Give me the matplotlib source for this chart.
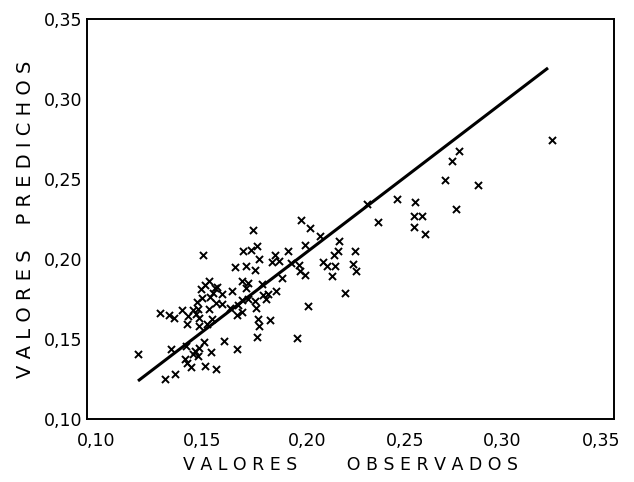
import matplotlib
matplotlib.use("Agg")
import matplotlib.pyplot as plt
from matplotlib.transforms import ScaledTranslation

# Observed values (x) and predicted values (y)
observed = [0.1242, 0.1345, 0.1388, 0.1413, 0.1399, 0.1368, 0.1419, 0.1450, 0.1473, 0.1481,
            0.1504, 0.1519, 0.1521, 0.1527, 0.1541, 0.1547, 0.1562, 0.1579, 0.1550, 0.1581,
            0.1585, 0.1599, 0.1605, 0.1618, 0.1640, 0.1610, 0.1640, 0.1595, 0.1570, 0.1533,
            0.1531, 0.1469, 0.1465, 0.1475, 0.1492, 0.1504, 0.1514, 0.1527, 0.1531, 0.1556,
            0.1560, 0.1587, 0.1610, 0.1649, 0.1711, 0.1678, 0.1688, 0.1700, 0.1711, 0.1717,
            0.1733, 0.1735, 0.1736, 0.1742, 0.1752, 0.1754, 0.1764, 0.1764, 0.1779, 0.1789,
            0.1798, 0.1795, 0.1800, 0.1806, 0.1810, 0.1814, 0.1816, 0.1808, 0.1828, 0.1835,
            0.1851, 0.1859, 0.1866, 0.1876, 0.1891, 0.1895, 0.1909, 0.1924, 0.1953, 0.1969,
            0.1996, 0.2006, 0.2012, 0.2017, 0.2033, 0.2035, 0.2047, 0.2060, 0.2103, 0.2118,
            0.2138, 0.2163, 0.2171, 0.2178, 0.2192, 0.2196, 0.2225, 0.2264, 0.2271, 0.2277,
            0.2329, 0.2380, 0.2471, 0.2549, 0.2550, 0.2554, 0.2587, 0.2603, 0.2696, 0.2733,
            0.2752, 0.2767, 0.2855, 0.3206]
predicted = [0.1409, 0.1664, 0.1647, 0.1629, 0.1436, 0.1249, 0.1280, 0.1679, 0.1591, 0.1643,
             0.1679, 0.1654, 0.1732, 0.1685, 0.1813, 0.1757, 0.1836, 0.1861, 0.2027, 0.1685,
             0.1762, 0.1789, 0.1820, 0.1824, 0.1782, 0.1726, 0.1716, 0.1623, 0.1591, 0.1633,
             0.1581, 0.1457, 0.1374, 0.1353, 0.1322, 0.1405, 0.1425, 0.1394, 0.1446, 0.1483,
             0.1332, 0.1419, 0.1311, 0.1488, 0.1440, 0.1695, 0.1803, 0.1952, 0.1649, 0.1712,
             0.1741, 0.1670, 0.1865, 0.2048, 0.1954, 0.1820, 0.1851, 0.1753, 0.2058, 0.2181,
             0.1934, 0.1737, 0.1691, 0.2079, 0.1623, 0.2002, 0.1581, 0.1513, 0.1845, 0.1778,
             0.1753, 0.1782, 0.1616, 0.1981, 0.2027, 0.1803, 0.1990, 0.1882, 0.2052, 0.1973,
             0.1508, 0.1965, 0.1928, 0.2245, 0.2085, 0.1903, 0.1706, 0.2193, 0.2145, 0.1981,
             0.1954, 0.1892, 0.2027, 0.1954, 0.2052, 0.2110, 0.1789, 0.1969, 0.2052, 0.1923,
             0.2345, 0.2230, 0.2376, 0.2197, 0.2266, 0.2355, 0.2266, 0.2158, 0.2494, 0.2612,
             0.2313, 0.2674, 0.2463, 0.2744]

# Regression line end points
line_x = [0.1242, 0.3187]
line_y = [0.1238, 0.3194]

ticks = [0.10, 0.15, 0.20, 0.25, 0.30, 0.35]
tick_labels = ["0,10", "0,15", "0,20", "0,25", "0,30", "0,35"]

plt.rcParams['font.family'] = ['DejaVu Sans']

W, H = 634, 482
fig = plt.figure(figsize=(W / 100, H / 100), dpi=100)
ax = fig.add_axes([87 / W, 1 - 419 / H, (614 - 87) / W, (419 - 19) / H])

ax.plot(line_x, line_y, color='black', lw=2.2, solid_capstyle='butt', zorder=2)
ax.scatter(observed, predicted, marker='x', s=26, color='black', linewidths=1.4, zorder=3)

ax.set_xlim(0.10, 0.35)
ax.set_ylim(0.10, 0.35)
ax.set_xticks(ticks)
ax.set_xticklabels(tick_labels)
ax.set_yticks(ticks)
ax.set_yticklabels(tick_labels)
ax.tick_params(length=0, labelsize=12.5)
ax.tick_params(axis='x', pad=9.5)
ax.tick_params(axis='y', pad=3)
for s in ax.spines.values():
    s.set_linewidth(1.4)

# hand-lettered label offsets (pixels) relative to tick positions
x_offsets = [9, 10, 9, 2, -6, -13]
for lab, dx in zip(ax.get_xticklabels(), x_offsets):
    lab.set_transform(lab.get_transform() + ScaledTranslation(dx / 100, 0, fig.dpi_scale_trans))

def spaced(word):
    return " ".join(word)

xlab = spaced("VALORES") + " " * 9 + spaced("OBSERVADOS")
ylab = spaced("VALORES") + " " * 4 + spaced("PREDICHOS")

ax.set_xlabel(xlab, fontsize=12.5, labelpad=4)
ax.set_ylabel(ylab, fontsize=14, labelpad=7)

fig.savefig("out.png", dpi=100, facecolor='white')
